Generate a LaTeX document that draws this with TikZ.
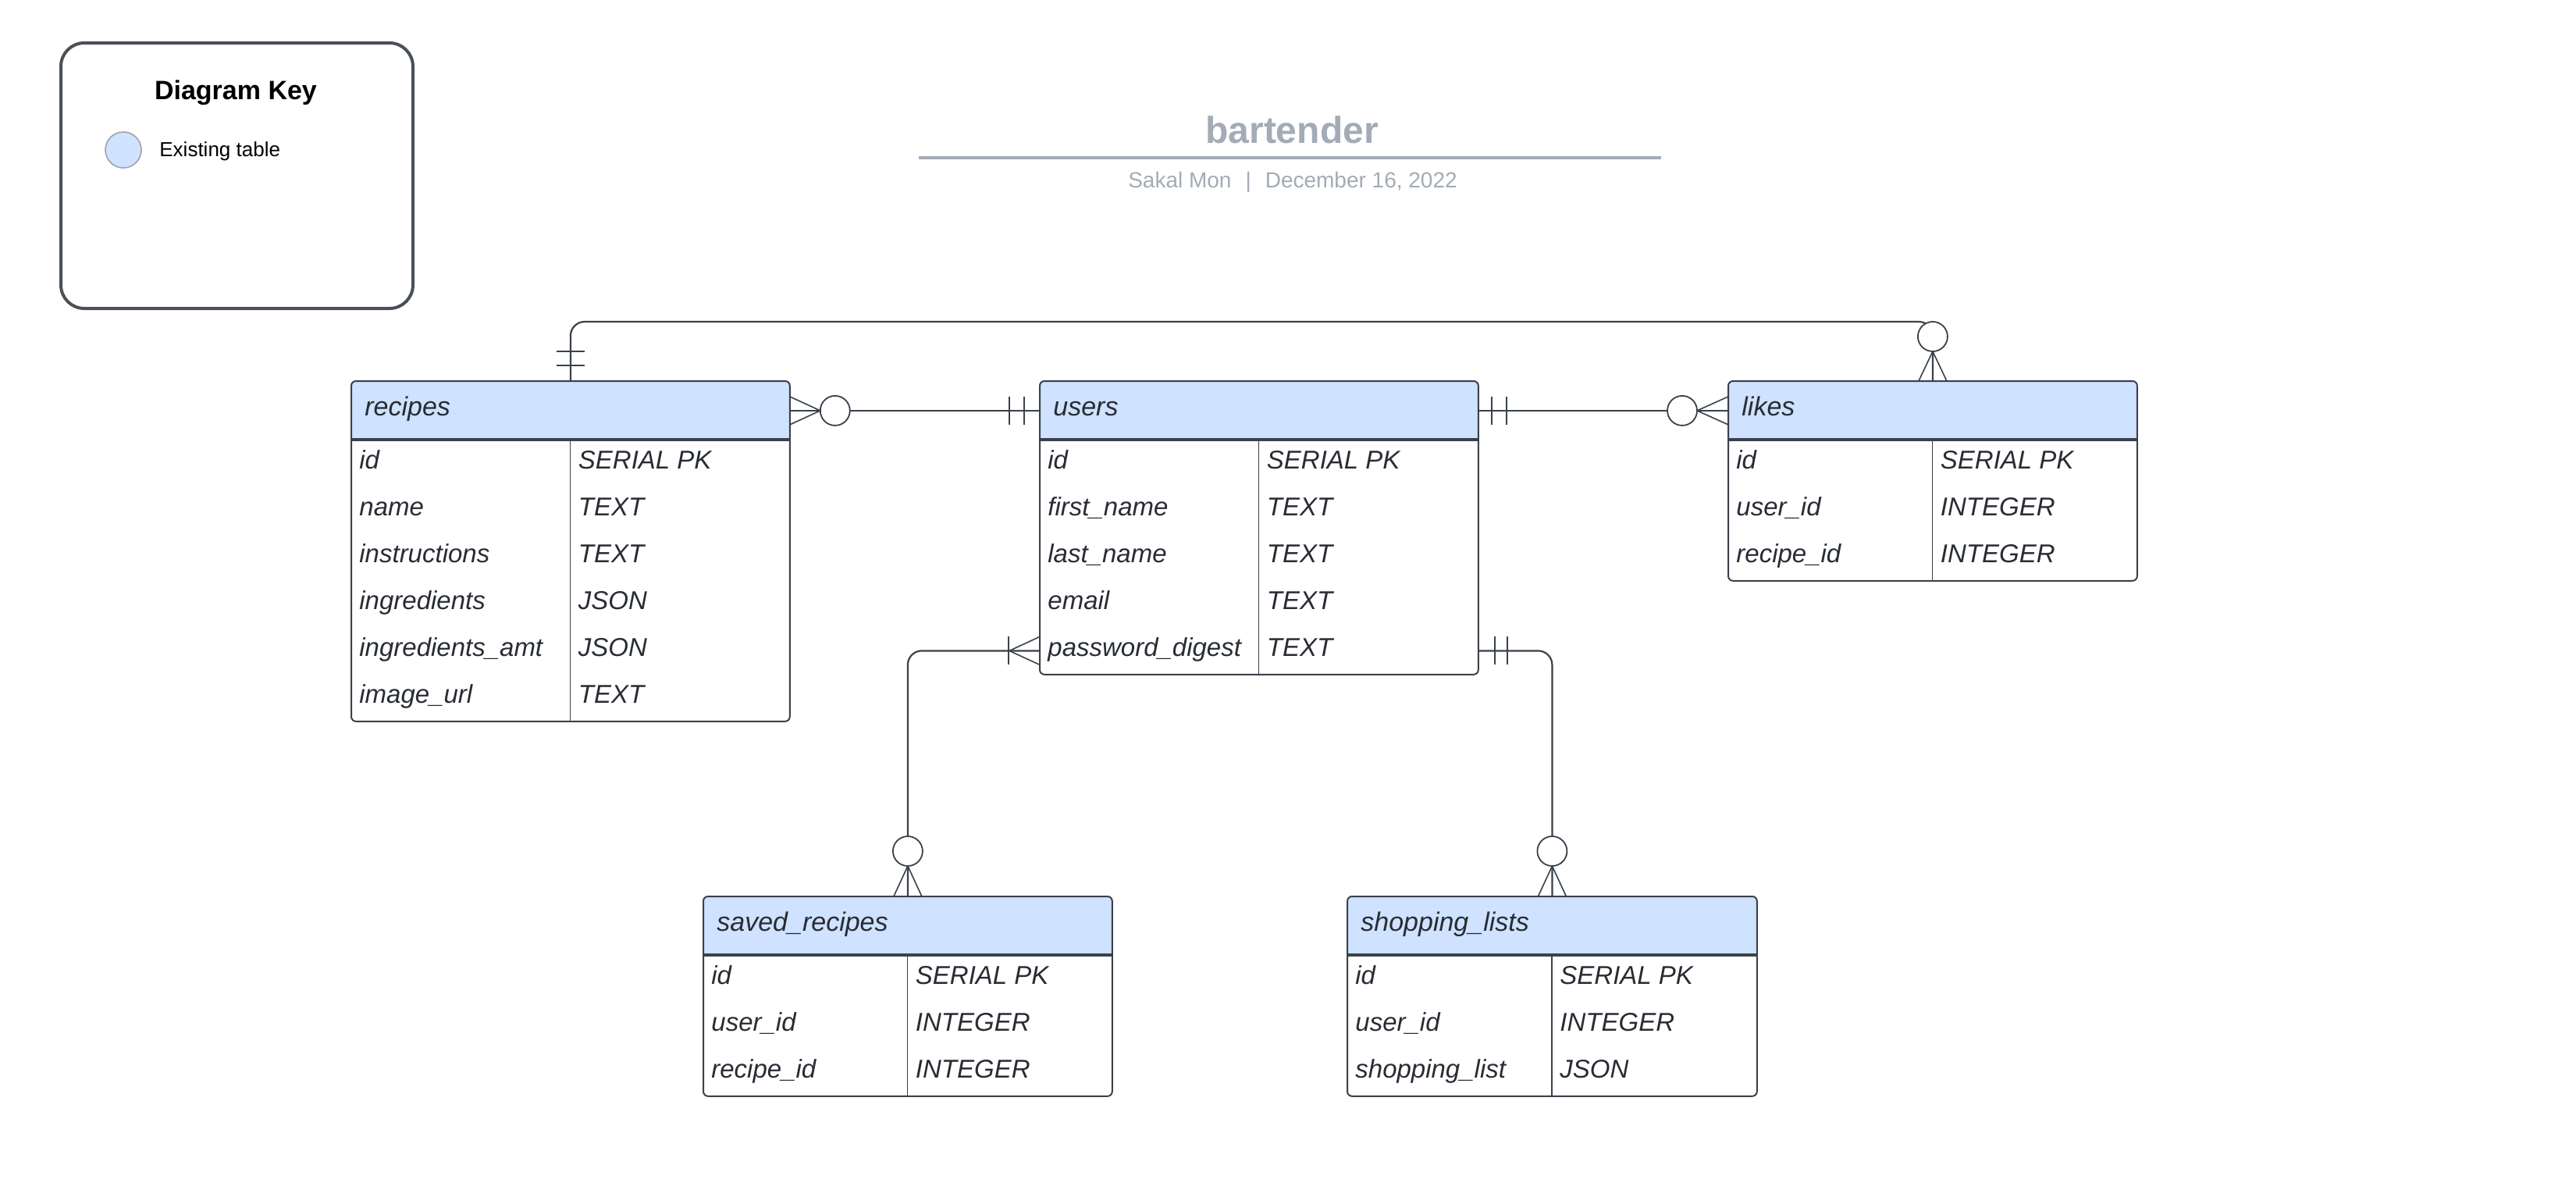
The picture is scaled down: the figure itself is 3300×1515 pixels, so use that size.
\documentclass[tikz,border=0pt]{standalone}
\usepackage{fontspec}
\setmainfont{Liberation Sans}
\usetikzlibrary{calc}
\definecolor{hdrblue}{HTML}{CFE2FF}
\definecolor{linegray}{HTML}{3A414A}
\definecolor{txtgray}{HTML}{282C33}
\definecolor{titlegray}{HTML}{A3ABB6}
\definecolor{keygray}{HTML}{4A5059}
\definecolor{dotgray}{HTML}{9DA3AB}

\tikzset{
 tablebox/.style={draw=none, fill=white, inner sep=0pt, rectangle},
 hdrbox/.style={draw=none, inner sep=0pt, rectangle},
 rowbox/.style={draw=none, inner sep=0pt, rectangle},
 tableline/.style={draw=linegray, line width=1pt},
 hdrline/.style={draw=linegray, line width=1.6pt},
 colline/.style={draw=linegray, line width=0.6pt},
 hdrtext/.style={font=\fontsize{17}{20}\selectfont\itshape, text=txtgray, inner sep=0pt},
 rowtext/.style={font=\fontsize{16.5}{20}\selectfont\itshape, text=txtgray, inner sep=0pt},
 conn/.style={draw=linegray, line width=1.1pt},
 foot/.style={draw=linegray, line width=0.8pt},
 zcircle/.style={circle, draw=linegray, line width=0.9pt, fill=white, minimum size=19pt, inner sep=0pt},
 keybox/.style={draw=keygray, line width=2pt, rounded corners=15pt, fill=white, inner sep=0pt, rectangle},
}

% #1 name, #2 x1, #3 y1, #4 x2, #5 title, #6 number of rows, #7 rows
\newcommand{\ertable}[7]{%
  \pgfmathsetmacro\tbW{#4-#2}%
  \pgfmathsetmacro\tbB{#3+75+60*#6}%
  \pgfmathsetmacro\tbM{(#2+#4)/2}%
  \pgfmathsetmacro\tbD{#3+75}%
  \node[tablebox, minimum width={\tbW*0.5pt}, minimum height={(75+60*#6)*0.5pt}, anchor=north west] (#1) at (#2,#3) {};
  \begin{scope}
    \clip (#2,#3) rectangle (#4,\tbD);
    \fill[hdrblue, rounded corners=3pt] (#2,#3) rectangle (#4,\tbB);
  \end{scope}
  \node[hdrbox, minimum width={\tbW*0.5pt}, minimum height=37.5pt, anchor=north west] (#1-h) at (#2,#3) {};
  \draw[hdrline] (#2,\tbD) -- (#4,\tbD);
  \draw[colline] (\tbM,\tbD) -- (\tbM,\tbB);
  \draw[tableline, rounded corners=3pt] (#1.north west) rectangle (#1.south east);
  \node[hdrtext, anchor=base west] (#1-title) at (#2+17,#3+44) {#5};
  \foreach \fn/\ft [count=\i] in {#7} {
    \node[rowbox, minimum width={\tbW*0.5pt}, minimum height=30pt, anchor=north west] (#1-r\i) at (#2,\tbD+60*\i-60) {};
    \node[rowtext, anchor=base west] (#1-n\i) at (#2+10,\tbD+60*\i-23) {\fn};
    \node[rowtext, anchor=base west] (#1-t\i) at (\tbM+10,\tbD+60*\i-23) {\ft};
  }
}

\begin{document}
\begin{tikzpicture}[x=0.5pt,y=-0.5pt]
\useasboundingbox (0,0) rectangle (3300,1515);

% ---------- key ----------
\node[keybox, minimum width=225.5pt, minimum height=170pt, anchor=north west] (key) at (76,53) {};
\node[font=\fontsize{17}{20}\selectfont\bfseries, anchor=base, inner sep=0pt] (keytitle) at (302,127) {Diagram Key};
\node[circle, fill=hdrblue, draw=dotgray, line width=0.8pt, minimum size=23pt, inner sep=0pt] (keydot) at (158,192) {};
\node[font=\fontsize{13}{16}\selectfont, anchor=base west, inner sep=0pt] (keytext) at (204,200) {Existing table};

% ---------- title ----------
\node[font=\fontsize{24}{28}\selectfont\bfseries, text=titlegray, anchor=base, inner sep=0pt] (title) at (1655,183) {bartender};
\coordinate (rulel) at (1177,202);
\coordinate (ruler) at (2128,202);
\draw[titlegray, line width=2pt] (rulel) -- (ruler);
\node[font=\fontsize{14}{17}\selectfont, text=titlegray, anchor=base, inner sep=0pt] (subtitle) at (1656,240) {Sakal Mon\hspace{9pt}|\hspace{9pt}December 16, 2022};

% ---------- tables ----------
\ertable{recipes}{450}{488}{1011}{recipes}{6}{id/SERIAL PK, name/TEXT, instructions/TEXT, ingredients/JSON, ingredients\_amt/JSON, image\_url/TEXT}
\ertable{users}{1332}{488}{1893}{users}{5}{id/SERIAL PK, first\_name/TEXT, last\_name/TEXT, email/TEXT, password\_digest/TEXT}
\ertable{likes}{2214}{488}{2737}{likes}{3}{id/SERIAL PK, user\_id/INTEGER, recipe\_id/INTEGER}
\ertable{saved}{901}{1148}{1424}{saved\_recipes}{3}{id/SERIAL PK, user\_id/INTEGER, recipe\_id/INTEGER}
\ertable{shopping}{1726}{1148}{2250}{shopping\_lists}{3}{id/SERIAL PK, user\_id/INTEGER, shopping\_list/JSON}

% ---------- recipes - users ----------
\draw[conn] (recipes-h.east) -- (users-h.west);
\draw[foot] ($(recipes-h.east)+(0,-18)$) -- ($(recipes-h.east)+(39,0)$) -- ($(recipes-h.east)+(0,18)$);
\node[zcircle] (c-ru) at ($(recipes-h.east)+(58,0)$) {};
\draw[foot] ($(users-h.west)+(-20,-18)$) -- ($(users-h.west)+(-20,18)$);
\draw[foot] ($(users-h.west)+(-39,-18)$) -- ($(users-h.west)+(-39,18)$);

% ---------- users - likes ----------
\draw[conn] (users-h.east) -- (likes-h.west);
\draw[foot] ($(users-h.east)+(17,-18)$) -- ($(users-h.east)+(17,18)$);
\draw[foot] ($(users-h.east)+(36,-18)$) -- ($(users-h.east)+(36,18)$);
\draw[foot] ($(likes-h.west)+(0,-18)$) -- ($(likes-h.west)+(-40,0)$) -- ($(likes-h.west)+(0,18)$);
\node[zcircle] (c-ul) at ($(likes-h.west)+(-59,0)$) {};

% ---------- recipes - likes ----------
\draw[conn, rounded corners=9pt] (recipes-h.north) |- ($(likes-h.north)+(0,-76)$) -- (likes-h.north);
\draw[foot] ($(recipes-h.north)+(-18,-20)$) -- ($(recipes-h.north)+(18,-20)$);
\draw[foot] ($(recipes-h.north)+(-18,-38)$) -- ($(recipes-h.north)+(18,-38)$);
\draw[foot] ($(likes-h.north)+(-18,0)$) -- ($(likes-h.north)+(0,-38)$) -- ($(likes-h.north)+(18,0)$);
\node[zcircle] (c-rl) at ($(likes-h.north)+(0,-57)$) {};

% ---------- users - saved_recipes ----------
\draw[conn, rounded corners=9pt] (users-r5.west) -| (saved-h.north);
\draw[foot] ($(users-r5.west)+(0,-18)$) -- ($(users-r5.west)+(-39,0)$) -- ($(users-r5.west)+(0,18)$);
\draw[foot] ($(users-r5.west)+(-40,-18)$) -- ($(users-r5.west)+(-40,18)$);
\draw[foot] ($(saved-h.north)+(-18,0)$) -- ($(saved-h.north)+(0,-39)$) -- ($(saved-h.north)+(18,0)$);
\node[zcircle] (c-us) at ($(saved-h.north)+(0,-58)$) {};

% ---------- users - shopping_lists ----------
\draw[conn, rounded corners=9pt] (users-r5.east) -| (shopping-h.north);
\draw[foot] ($(users-r5.east)+(21,-18)$) -- ($(users-r5.east)+(21,18)$);
\draw[foot] ($(users-r5.east)+(37,-18)$) -- ($(users-r5.east)+(37,18)$);
\draw[foot] ($(shopping-h.north)+(-18,0)$) -- ($(shopping-h.north)+(0,-39)$) -- ($(shopping-h.north)+(18,0)$);
\node[zcircle] (c-ush) at ($(shopping-h.north)+(0,-58)$) {};

\end{tikzpicture}
\end{document}
